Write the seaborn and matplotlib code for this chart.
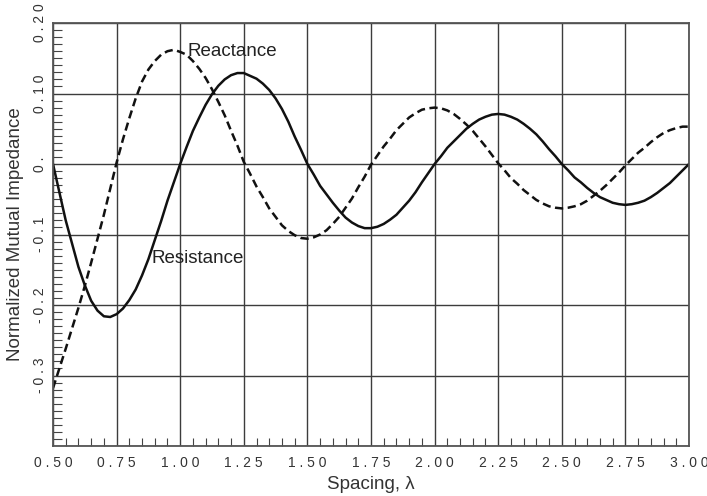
import matplotlib
matplotlib.use("Agg")
import matplotlib.pyplot as plt
from matplotlib.ticker import MultipleLocator, FixedLocator
import pandas as pd
import seaborn as sns

# ---- data ----
spacing = [0.500, 0.525, 0.550, 0.575, 0.600, 0.625, 0.650, 0.675, 0.700, 0.725,
           0.750, 0.775, 0.800, 0.825, 0.850, 0.875, 0.900, 0.925, 0.950, 0.975,
           1.000, 1.025, 1.050, 1.075, 1.100, 1.125, 1.150, 1.175, 1.200, 1.225,
           1.250, 1.275, 1.300, 1.325, 1.350, 1.375, 1.400, 1.425, 1.450, 1.475,
           1.500, 1.525, 1.550, 1.575, 1.600, 1.625, 1.650, 1.675, 1.700, 1.725,
           1.750, 1.775, 1.800, 1.825, 1.850, 1.875, 1.900, 1.925, 1.950, 1.975,
           2.000, 2.025, 2.050, 2.075, 2.100, 2.125, 2.150, 2.175, 2.200, 2.225,
           2.250, 2.275, 2.300, 2.325, 2.350, 2.375, 2.400, 2.425, 2.450, 2.475,
           2.500, 2.525, 2.550, 2.575, 2.600, 2.625, 2.650, 2.675, 2.700, 2.725,
           2.750, 2.775, 2.800, 2.825, 2.850, 2.875, 2.900, 2.925, 2.950, 2.975,
           3.000]

resistance = [0.000, -0.040, -0.080, -0.113, -0.146, -0.172, -0.194, -0.208, -0.216, -0.217,
              -0.213, -0.205, -0.193, -0.178, -0.158, -0.135, -0.108, -0.081, -0.052, -0.026,
              0.000, 0.024, 0.047, 0.066, 0.084, 0.099, 0.111, 0.120, 0.126, 0.129,
              0.129, 0.125, 0.121, 0.114, 0.105, 0.093, 0.078, 0.060, 0.039, 0.020,
              0.000, -0.015, -0.031, -0.043, -0.055, -0.066, -0.076, -0.083, -0.088, -0.091,
              -0.091, -0.089, -0.085, -0.079, -0.072, -0.062, -0.052, -0.040, -0.026, -0.013,
              0.000, 0.011, 0.023, 0.032, 0.041, 0.050, 0.057, 0.063, 0.067, 0.070,
              0.071, 0.070, 0.067, 0.063, 0.057, 0.050, 0.042, 0.032, 0.021, 0.011,
              0.000, -0.009, -0.019, -0.026, -0.034, -0.041, -0.047, -0.051, -0.055, -0.057,
              -0.058, -0.057, -0.055, -0.052, -0.047, -0.041, -0.034, -0.027, -0.018, -0.009,
              0.000]

reactance = [-0.318, -0.290, -0.262, -0.233, -0.204, -0.173, -0.140, -0.106, -0.072, -0.035,
             0.002, 0.035, 0.065, 0.093, 0.117, 0.134, 0.146, 0.155, 0.160, 0.162,
             0.159, 0.155, 0.146, 0.135, 0.122, 0.106, 0.088, 0.069, 0.047, 0.026,
             0.003, -0.014, -0.032, -0.047, -0.063, -0.075, -0.087, -0.095, -0.101, -0.105,
             -0.106, -0.104, -0.100, -0.094, -0.085, -0.075, -0.062, -0.049, -0.033, -0.018,
             -0.001, 0.012, 0.025, 0.036, 0.048, 0.057, 0.066, 0.072, 0.077, 0.079,
             0.080, 0.079, 0.076, 0.071, 0.064, 0.056, 0.047, 0.036, 0.025, 0.013,
             0.001, -0.009, -0.020, -0.028, -0.037, -0.044, -0.051, -0.056, -0.060, -0.062,
             -0.063, -0.062, -0.060, -0.057, -0.052, -0.045, -0.038, -0.030, -0.021, -0.012,
             -0.002, 0.007, 0.016, 0.023, 0.031, 0.038, 0.044, 0.048, 0.051, 0.053,
             0.053]

x_ticks = [0.50, 0.75, 1.00, 1.25, 1.50, 1.75, 2.00, 2.25, 2.50, 2.75, 3.00]
x_tick_labels = ["0.50", "0.75", "1.00", "1.25", "1.50", "1.75",
                 "2.00", "2.25", "2.50", "2.75", "3.00"]
y_ticks = [0.2, 0.1, 0.0, -0.1, -0.2, -0.3, -0.4]
y_tick_labels = ["0. 20", "0. 10", "0.", "-0. 1", "-0. 2", "-0. 3", ""]

# ---- figure ----
sns.set_style("white")
plt.rcParams["font.family"] = ["Liberation Sans", "DejaVu Sans"]

fig = plt.figure(figsize=(7.07, 4.96), dpi=100)
ax = fig.add_axes([53 / 707, 50 / 496, 636 / 707, 423 / 496])

df = pd.DataFrame({"spacing": spacing, "Resistance": resistance, "Reactance": reactance})

sns.lineplot(data=df, x="spacing", y="Resistance", ax=ax, color="#111111",
             lw=1.8, solid_capstyle="round")
sns.lineplot(data=df, x="spacing", y="Reactance", ax=ax, color="#111111",
             lw=1.8, dashes=False)
ax.lines[-1].set_dashes((3.3, 1.8))

ax.set_xlim(0.5, 3.0)
ax.set_ylim(-0.4, 0.2)

ax.xaxis.set_major_locator(FixedLocator(x_ticks))
ax.set_xticklabels([" ".join(t) for t in x_tick_labels])
ax.yaxis.set_major_locator(FixedLocator(y_ticks))
ax.set_yticklabels([" ".join(t.replace(" ", "")) if t else "" for t in y_tick_labels],
                   rotation=90, va="center")
ax.xaxis.set_minor_locator(MultipleLocator(0.05))
ax.yaxis.set_minor_locator(MultipleLocator(0.01))

ax.tick_params(which="major", length=0, labelsize=10, labelcolor="#333333")
ax.tick_params(axis="x", which="major", pad=7)
ax.tick_params(axis="y", which="major", pad=4)
ax.tick_params(which="minor", direction="in", color="#444444", width=0.8)
ax.tick_params(axis="x", which="minor", length=5.8, bottom=True)
ax.tick_params(axis="y", which="minor", length=6.5, left=True)

ax.grid(True, which="major", color="#3c3c3c", lw=1.0)
for s in ax.spines.values():
    s.set_color("#555555")
    s.set_linewidth(1.3)

ax.set_xlabel("Spacing, λ", fontsize=13.5, color="#333333")
ax.set_ylabel("Normalized Mutual Impedance", fontsize=13.5, color="#333333")
ax.xaxis.set_label_coords(0.5, -0.072)
ax.yaxis.set_label_coords(-0.045, 0.5)

ax.text(1.028, 0.160, "Reactance", fontsize=13.5, color="#222222", va="center", ha="left")
ax.text(0.886, -0.134, "Resistance", fontsize=13.5, color="#222222", va="center", ha="left")

fig.savefig("out.png", dpi=100)
